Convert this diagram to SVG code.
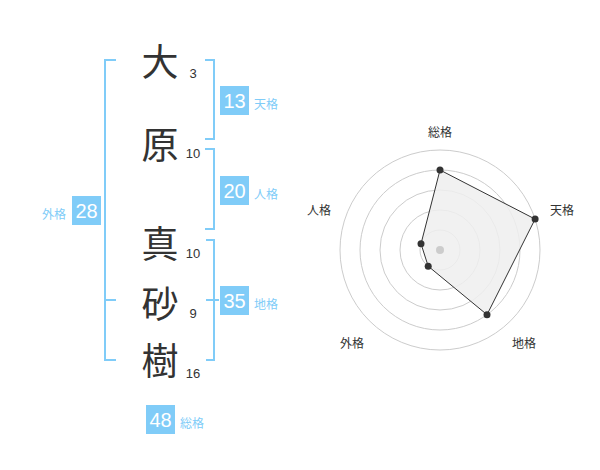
<svg xmlns="http://www.w3.org/2000/svg" width="600" height="470" viewBox="0 0 600 470">
<style>
.ch{font-family:"Noto Sans CJK JP","Noto Sans",sans-serif;font-size:37px;fill:#333;text-anchor:middle;dominant-baseline:central}
.st{font-family:"Liberation Sans",Arial,sans-serif;font-size:13px;fill:#333;text-anchor:middle}
.box{fill:#80ccf8}
.bn{font-family:"Liberation Sans",Arial,sans-serif;font-size:20px;fill:#fff;text-anchor:middle}
.lb{font-family:"Noto Sans CJK JP",sans-serif;font-size:12px;fill:#80ccf8;dominant-baseline:central}
.br{fill:none;stroke:#80ccf8;stroke-width:2}
.ring{fill:none;stroke:#cccccc;stroke-width:1}
.rl{font-family:"Noto Sans CJK JP",sans-serif;font-size:12px;fill:#333;text-anchor:middle;dominant-baseline:central}
.dot{fill:#333}
</style>
<rect width="600" height="470" fill="#fff"/>
<g id="connectors">
<path class="br" d="M116,60 H105 V360 H116 M105,300 H116"/>
<path class="br" d="M205,60 H214 V139 H205"/>
<path class="br" d="M205,149 H214 V229 H205"/>
<path class="br" d="M206,240 H214 V360 H206 M206,300 H219"/>
</g>
<g id="char1"><text class="ch" x="160" y="60">大</text><text class="st" x="193" y="77.5">3</text></g>
<g id="char2"><text class="ch" x="160" y="143">原</text><text class="st" x="193" y="158">10</text></g>
<g id="char3"><text class="ch" x="160" y="242">真</text><text class="st" x="193" y="257.5">10</text></g>
<g id="char4"><text class="ch" x="160" y="302">砂</text><text class="st" x="193" y="318">9</text></g>
<g id="char5"><text class="ch" x="160" y="359">樹</text><text class="st" x="193" y="377.5">16</text></g>
<g id="tenkaku"><rect class="box" x="220" y="86" width="29" height="29"/><text class="bn" x="234.5" y="107.7">13</text><text class="lb" x="254" y="103.5">天格</text></g>
<g id="jinkaku"><rect class="box" x="220" y="176" width="29" height="29"/><text class="bn" x="234.5" y="197.7">20</text><text class="lb" x="254" y="193.5">人格</text></g>
<g id="gaikaku"><rect class="box" x="72" y="196" width="29" height="29"/><text class="bn" x="86.5" y="217.7">28</text><text class="lb" x="66" y="213.5" text-anchor="end">外格</text></g>
<g id="chikaku"><rect class="box" x="220" y="286" width="29" height="29"/><text class="bn" x="234.5" y="307.7">35</text><text class="lb" x="254" y="303.5">地格</text></g>
<g id="soukaku"><rect class="box" x="146" y="405" width="29" height="29"/><text class="bn" x="160.5" y="426.7">48</text><text class="lb" x="180" y="422.5">総格</text></g>
<g id="radar">
<circle class="ring" cx="440" cy="250" r="20"/>
<circle class="ring" cx="440" cy="250" r="40"/>
<circle class="ring" cx="440" cy="250" r="60"/>
<circle class="ring" cx="440" cy="250" r="80"/>
<circle class="ring" cx="440" cy="250" r="100"/>
<polygon points="440,170 535.1,219.1 487,314.7 428.2,266.2 421,243.8" fill="#efefef" fill-opacity="0.85" stroke="#333" stroke-width="1"/>
<circle cx="440" cy="250" r="4" fill="#cccccc"/>
<circle class="dot" cx="440" cy="170" r="3.5"/>
<circle class="dot" cx="535.1" cy="219.1" r="3.5"/>
<circle class="dot" cx="487" cy="314.7" r="3.5"/>
<circle class="dot" cx="428.2" cy="266.2" r="3.5"/>
<circle class="dot" cx="421" cy="243.8" r="3.5"/>
<text class="rl" x="440" y="131">総格</text>
<text class="rl" x="562" y="209">天格</text>
<text class="rl" x="524" y="342">地格</text>
<text class="rl" x="352" y="342">外格</text>
<text class="rl" x="319" y="209">人格</text>
</g>
</svg>
